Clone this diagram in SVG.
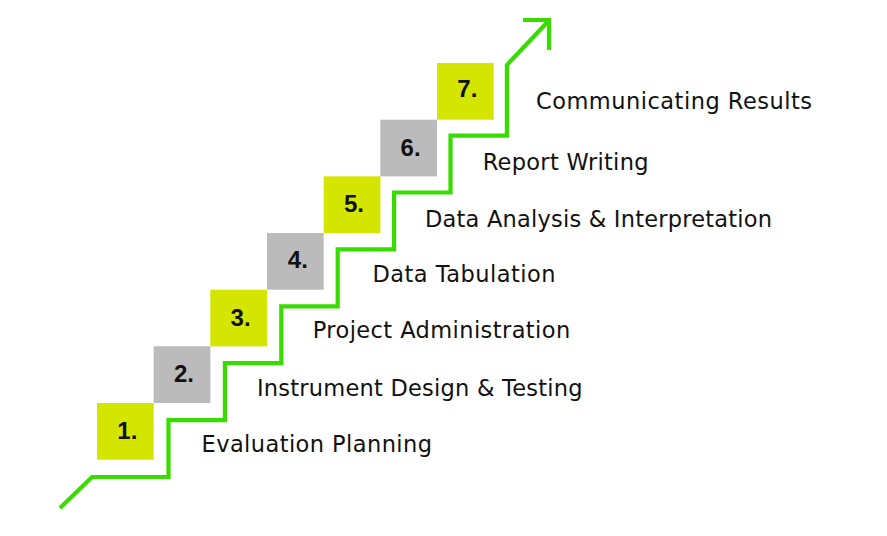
<svg xmlns="http://www.w3.org/2000/svg" width="887" height="536" viewBox="0 0 887 536">
<style>
.box-y{fill:#d4e600}
.box-g{fill:#bbbbbb}
.num{font-family:"Liberation Sans",Arial,sans-serif;font-weight:700;font-size:24px;fill:#111;text-anchor:middle}
.lbl{font-family:"DejaVu Sans","Liberation Sans",sans-serif;font-size:22.5px;fill:#111;font-variant-ligatures:none}
.stair{fill:none;stroke:#38dc00;stroke-width:4.2;stroke-linejoin:miter}
</style>
<rect width="887" height="536" fill="#ffffff"/>
<g id="connectors">
<path class="stair" d="M60,508 L92,477 H168.5 V420.1 H224.9 V363.2 H281.3 V306.3 H337.7 V249.4 H394.1 V192.5 H450.5 V135.6 H506.9 V65 L548,21.5"/>
<path class="stair" d="M523,20 H549 V50"/>
</g>
<g id="step1">
<rect class="box-y" x="97" y="403" width="56.7" height="56.7"/>
<text class="num" x="127.3" y="439">1.</text>
<text class="lbl" x="201.5" y="452.3" textLength="230.5">Evaluation Planning</text>
</g>
<g id="step2">
<rect class="box-g" x="153.7" y="346.3" width="56.7" height="56.7"/>
<text class="num" x="184" y="382.3">2.</text>
<text class="lbl" x="257" y="396.3" textLength="325.5">Instrument Design &amp; Testing</text>
</g>
<g id="step3">
<rect class="box-y" x="210.3" y="289.7" width="56.7" height="56.7"/>
<text class="num" x="240.6" y="325.7">3.</text>
<text class="lbl" x="312.7" y="338.3" textLength="257.5">Project Administration</text>
</g>
<g id="step4">
<rect class="box-g" x="267" y="233" width="56.7" height="56.7"/>
<text class="num" x="297.8" y="268">4.</text>
<text class="lbl" x="372.5" y="281.7" textLength="183">Data Tabulation</text>
</g>
<g id="step5">
<rect class="box-y" x="323.7" y="176.3" width="56.7" height="56.7"/>
<text class="num" x="354" y="212">5.</text>
<text class="lbl" x="425" y="227.3" textLength="347">Data Analysis &amp; Interpretation</text>
</g>
<g id="step6">
<rect class="box-g" x="380.3" y="119.7" width="56.7" height="56.7"/>
<text class="num" x="410.6" y="155.5">6.</text>
<text class="lbl" x="482.7" y="170" textLength="165.8">Report Writing</text>
</g>
<g id="step7">
<rect class="box-y" x="437" y="63" width="56.7" height="56.7"/>
<text class="num" x="467.3" y="97">7.</text>
<text class="lbl" x="536" y="108.5" textLength="276">Communicating Results</text>
</g>
</svg>
